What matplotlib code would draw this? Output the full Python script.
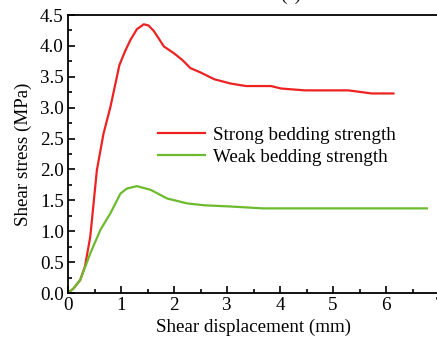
import matplotlib
matplotlib.use('Agg')
import matplotlib.pyplot as plt
from matplotlib.ticker import MultipleLocator

# strong bedding strength curve
strong_x = [0.0, 0.10, 0.23, 0.32, 0.42, 0.545, 0.67, 0.80, 0.97, 1.08, 1.18, 1.30, 1.43,
            1.52, 1.62, 1.81, 2.00, 2.16, 2.31, 2.50, 2.76, 3.07, 3.36, 3.83, 4.02, 4.47,
            5.29, 5.73, 6.14]
strong_y = [0.0, 0.07, 0.21, 0.43, 0.91, 1.99, 2.58, 3.01, 3.69, 3.92, 4.10, 4.27, 4.35,
            4.33, 4.24, 3.99, 3.88, 3.77, 3.64, 3.57, 3.46, 3.39, 3.35, 3.35, 3.31, 3.28,
            3.28, 3.23, 3.23]

# weak bedding strength curve
weak_x = [0.0, 0.10, 0.23, 0.42, 0.61, 0.80, 0.99, 1.11, 1.30, 1.56, 1.87, 2.25,
          2.57, 3.07, 3.67, 6.77]
weak_y = [0.0, 0.07, 0.21, 0.64, 1.02, 1.29, 1.61, 1.69, 1.73, 1.67, 1.53, 1.45,
          1.42, 1.40, 1.37, 1.37]

plt.rcParams['font.family'] = ['Liberation Serif', 'DejaVu Serif']
fs = 13.7

fig = plt.figure(figsize=(4.37, 3.38), dpi=100)
ax = fig.add_axes([68/437, 45/338, 371/437, 278/338])

ax.plot(strong_x, strong_y, color='#ee2222', lw=1.6, label='Strong bedding strength')
ax.plot(weak_x, weak_y, color='#6cbb2e', lw=1.6, label='Weak bedding strength')

ax.set_xlim(0, 7)
ax.set_ylim(0, 4.5)
ax.xaxis.set_major_locator(MultipleLocator(1))
ax.xaxis.set_minor_locator(MultipleLocator(0.5))
ax.yaxis.set_major_locator(MultipleLocator(0.5))
ax.yaxis.set_minor_locator(MultipleLocator(0.25))
ax.yaxis.set_major_formatter(plt.FormatStrFormatter('%.1f'))
ax.tick_params(which='both', direction='in', top=False, right=False, labelsize=fs,
               width=1.2, pad=3)
ax.tick_params(which='major', length=5)
ax.tick_params(which='minor', length=3)
for s in ax.spines.values():
    s.set_linewidth(1.3)

ax.set_xlabel('Shear displacement (mm)', fontsize=fs, labelpad=3)
ax.set_ylabel('Shear stress (MPa)', fontsize=fs, labelpad=6)

ax.legend(loc='upper left', bbox_to_anchor=(0.221, 0.626), frameon=False,
          fontsize=fs, handlelength=2.5, handletextpad=0.4, labelspacing=0.25,
          borderaxespad=0)

fig.text(291/437, 1.0, '(a)', ha='center', va='baseline', fontsize=fs)

plt.savefig('out.png', dpi=100)
